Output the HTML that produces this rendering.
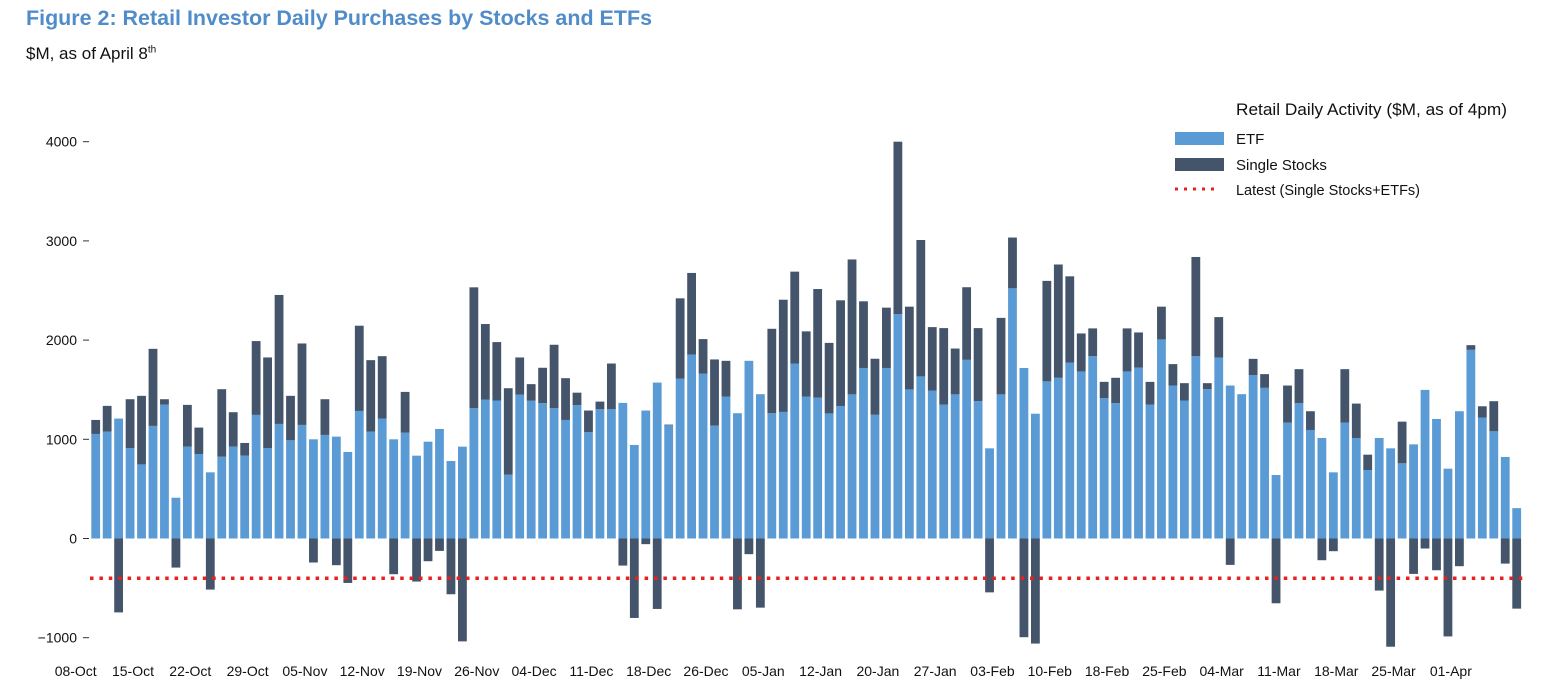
<!DOCTYPE html>
<html><head><meta charset="utf-8">
<style>
body{margin:0;background:#fff;width:1545px;height:699px;overflow:hidden;font-family:"Liberation Sans",Arial,sans-serif;}
#sub{position:absolute;left:26px;top:44px;font-size:17px;color:#111;}
#sub sup{font-size:10px;}
svg{position:absolute;left:0;top:0;}
</style></head>
<body>
<div id="sub">$M, as of April 8<sup>th</sup></div>
<svg id="chart" width="1545" height="699">
<text x="26" y="25" font-size="21" font-weight="bold" fill="#4f8cc9" font-family="Liberation Sans, sans-serif" textLength="626" lengthAdjust="spacingAndGlyphs">Figure 2: Retail Investor Daily Purchases by Stocks and ETFs</text>
</svg>
<script>
const etf=[1054,1077,1209,912,747,1135,1350,411,926,852,667,825,926,835,1246,912,1155,990,1145,1000,1044,1027,872,1286,1077,1209,1000,1067,835,976,1104,781,926,1313,1401,1391,643,1451,1391,1364,1313,1195,1345,1071,1303,1303,1367,943,1290,1572,1141,1613,1855,1663,1138,1431,1263,1791,1455,1263,1276,1764,1431,1420,1261,1336,1453,1719,1247,1719,2263,1503,1634,1492,1350,1453,1801,1385,909,1453,2522,1719,1258,1584,1620,1774,1684,1838,1414,1364,1684,1724,1350,2007,1542,1391,1838,1505,1825,1542,1455,1646,1519,640,1168,1364,1094,1013,667,1168,1013,690,1013,909,758,949,1498,1205,704,1283,1902,1219,1081,822,306];
const stocks=[141,260,-745,492,691,777,54,-293,421,266,-515,680,347,128,744,913,1300,448,821,-242,360,-269,-448,859,721,629,-360,411,-434,-229,-125,-562,-1037,1219,761,589,872,374,165,357,640,421,125,219,77,461,-273,-801,-57,-710,7,808,822,347,667,360,-714,-158,-697,851,1131,926,657,1095,711,1065,1360,672,565,608,1737,834,1375,639,771,462,732,736,-543,771,512,-995,-1059,1013,1142,869,383,280,165,256,434,353,229,330,216,175,1000,61,407,-266,0,165,138,-653,374,343,189,-219,-128,539,347,155,-525,-1091,420,-357,-101,-320,-987,-279,47,114,303,-253,-707];
const xLabels=["08-Oct","15-Oct","22-Oct","29-Oct","05-Nov","12-Nov","19-Nov","26-Nov","04-Dec","11-Dec","18-Dec","26-Dec","05-Jan","12-Jan","20-Jan","27-Jan","03-Feb","10-Feb","18-Feb","25-Feb","04-Mar","11-Mar","18-Mar","25-Mar","01-Apr"];
const yTicks=[4000,3000,2000,1000,0,-1000];

const NS="http://www.w3.org/2000/svg";
const svg=document.getElementById('chart');
const n=etf.length;
const x0=95.7, x1=1516.7, pitch=(x1-x0)/(n-1), bw=8.8;
function xPos(i){return x0+i*pitch;}
function yPos(v){return 538.5-v*0.0992;}
function mk(tag,attrs){const e=document.createElementNS(NS,tag);for(const k in attrs)e.setAttribute(k,attrs[k]);svg.appendChild(e);return e;}

yTicks.forEach(t=>{
  const tx=mk('text',{x:77,y:yPos(t)+5,'text-anchor':'end','font-size':14,fill:'#111','font-family':'Liberation Sans, sans-serif'});
  tx.textContent=(t<0?'\u2212'+Math.abs(t):t);
  
  
  const l=mk('line',{x1:83,x2:89,y1:yPos(t),y2:yPos(t),stroke:'#333','stroke-width':1});
  
  
});

for(let i=0;i<n;i++){
  const cx=xPos(i);
  const r=mk('rect',{x:cx-bw/2,y:yPos(etf[i]),width:bw,height:yPos(0)-yPos(etf[i]),fill:'#5b9bd5'});
  
  
  const s=stocks[i];
  if(s!==0){
    let top,bot;
    if(s>0){top=yPos(etf[i]+s);bot=yPos(etf[i]);}else{top=yPos(0);bot=yPos(s);}
    const r2=mk('rect',{x:cx-bw/2,y:top,width:bw,height:bot-top,fill:'#44546a'});
    
    
  }
}

const latest=etf[n-1]+stocks[n-1];
const rl=mk('line',{x1:90,x2:1524,y1:yPos(latest),y2:yPos(latest),stroke:'#e8201e','stroke-width':3.5,'stroke-dasharray':'3.5 5.9'});



xLabels.forEach((lab,k)=>{
  const t=mk('text',{x:xPos(k*5)-20,y:676,'text-anchor':'middle','font-size':14,fill:'#111','font-family':'Liberation Sans, sans-serif'});
  t.textContent=lab;
  
  
});

// legend
const lt=mk('text',{x:1236,y:115,'font-size':17,fill:'#111','font-family':'Liberation Sans, sans-serif',textLength:271,lengthAdjust:'spacingAndGlyphs'});
lt.textContent='Retail Daily Activity ($M, as of 4pm)';


const items=[['ETF','#5b9bd5',138],['Single Stocks','#44546a',164]];
items.forEach(it=>{
  const sw=mk('rect',{x:1175,y:it[2]-6,width:49,height:13,fill:it[1]});
  
  
  const tt=mk('text',{x:1236,y:it[2]+6,'font-size':15,fill:'#111','font-family':'Liberation Sans, sans-serif'});
  tt.textContent=it[0];
  
  
});
const ld=mk('line',{x1:1175,x2:1215,y1:189,y2:189,stroke:'#e8201e','stroke-width':3,'stroke-dasharray':'3 6'});


const lt3=mk('text',{x:1236,y:195,'font-size':15,fill:'#111','font-family':'Liberation Sans, sans-serif',textLength:184,lengthAdjust:'spacingAndGlyphs'});
lt3.textContent='Latest (Single Stocks+ETFs)';


</script>
</body></html>
